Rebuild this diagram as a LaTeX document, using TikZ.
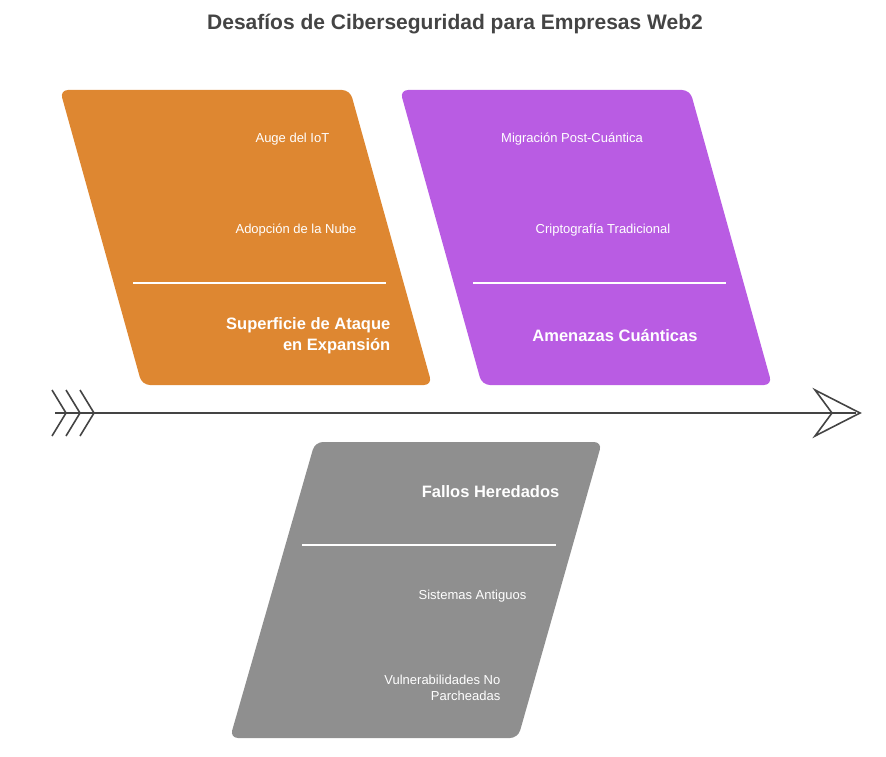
\documentclass[tikz,border=0pt]{standalone}
\usepackage{fontspec}
\setmainfont{Liberation Sans}
\usetikzlibrary{positioning}
\definecolor{cOrange}{HTML}{DE8731}
\definecolor{cPurple}{HTML}{B95CE3}
\definecolor{cGray}{HTML}{8F8F8F}
\definecolor{cText}{HTML}{444444}
\tikzset{every picture/.style={line width=0.75pt},
  panel/.style={rounded corners=8pt},
  item/.style={text=white,font=\fontsize{13}{16}\selectfont},
  head/.style={text=white,font=\bfseries\fontsize{16.5}{21}\selectfont,align=right},
  rule/.style={draw=white,line width=1.5pt},
  spine/.style={draw=cText,line width=1.6pt}}
\begin{document}
\begin{tikzpicture}[x=1pt,y=1pt,yscale=-1,xscale=1]
	\useasboundingbox (0,0) rectangle (886,757);
	% title
	\node (title) at (455,24) [text=cText,font=\bfseries\fontsize{21}{25}\selectfont] {Desafíos de Ciberseguridad para Empresas Web2};
	
	% panels
	\fill [cOrange,panel] (60,90) -- (350,90) -- (432,385) -- (142,385) -- cycle ;
	\fill [cPurple,panel] (400,90) -- (690,90) -- (772,385) -- (482,385) -- cycle ;
	\fill [cGray,panel] (315,442) -- (602,442) -- (518,738) -- (230,738) -- cycle ;
	
	% spine
	\coordinate (spineL) at (55,413);
	\coordinate (spineR) at (856,413);
	\draw [spine] (spineL) -- (spineR);
	\draw [spine,line join=miter] (815,390) -- (860,413) -- (815,436) -- (832,413) -- cycle ;
	\foreach \dx in {0,14,28} {
		\draw [spine] (52+\dx,390) -- (66+\dx,413) -- (52+\dx,436) ;
	}
	
	% Text Node
	\node (iot) [item,anchor=east] at (333,139) {Auge del IoT};
	\node (nube) [item,anchor=east] at (360,230) {Adopción de la Nube};
	\coordinate (ruleA1) at (133,283);
	\coordinate (ruleA2) at (386,283);
	\draw [rule] (ruleA1) -- (ruleA2);
	\node (superficie) [head,anchor=east] at (394,336) {Superficie de Ataque\\en Expansión};
	
	\node (pq) [item] at (572,139) {Migración Post-Cuántica};
	\node (cripto) [item] at (603,230) {Criptografía Tradicional};
	\coordinate (ruleB1) at (473,283);
	\coordinate (ruleB2) at (726,283);
	\draw [rule] (ruleB1) -- (ruleB2);
	\node (cuanticas) [head] at (615,336) {Amenazas Cuánticas};
	
	\node (fallos) [head,anchor=east] at (563,492) {Fallos Heredados};
	\coordinate (ruleC1) at (302,545);
	\coordinate (ruleC2) at (556,545);
	\draw [rule] (ruleC1) -- (ruleC2);
	\node (antiguos) [item,anchor=east] at (530,596) {Sistemas Antiguos};
	\node (vuln) [item,anchor=east,align=right] at (504,688) {Vulnerabilidades No\\Parcheadas};
\end{tikzpicture}
\end{document}
